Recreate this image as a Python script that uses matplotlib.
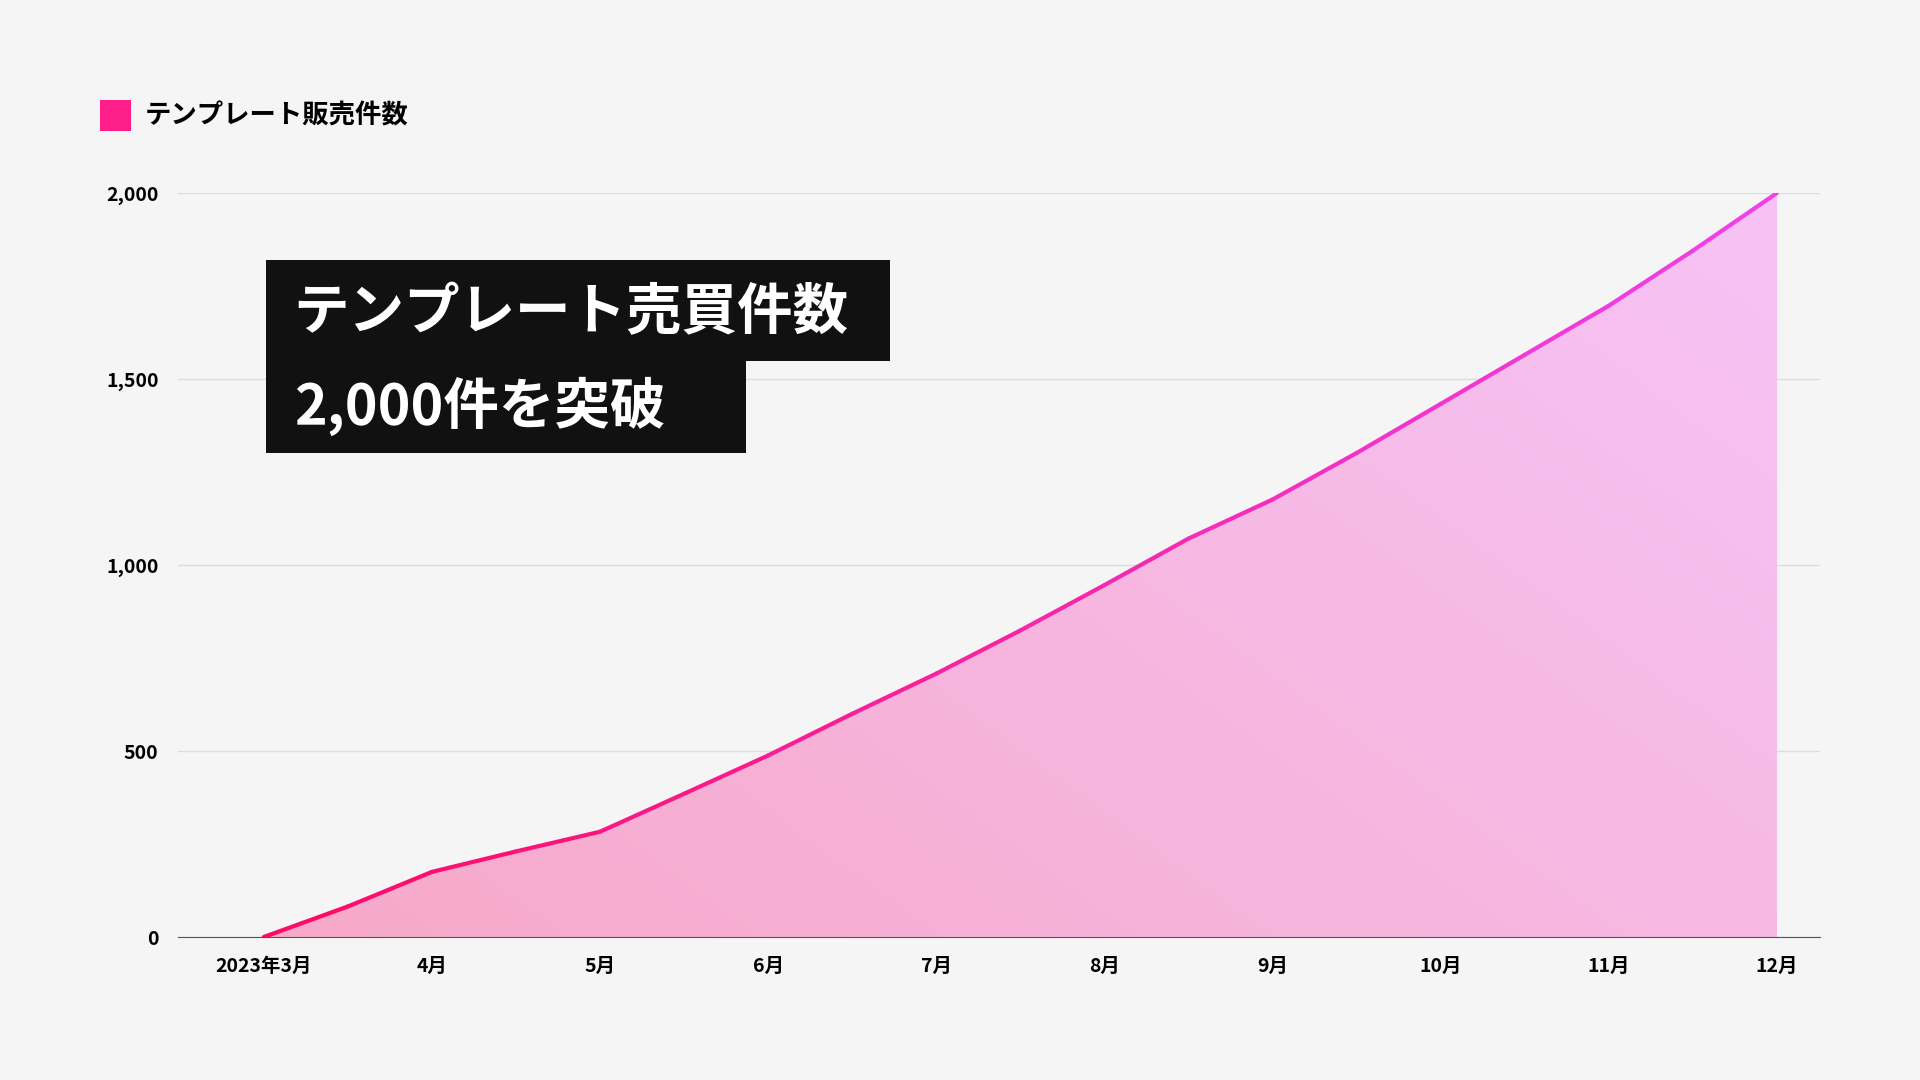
import numpy as np
import matplotlib.pyplot as plt
from matplotlib.collections import LineCollection
from matplotlib.colors import LinearSegmentedColormap
from matplotlib.patches import Rectangle

plt.rcParams['font.family'] = ['Noto Sans CJK JP', 'DejaVu Sans']

# month index (0 = 2023年3月) and cumulative sales
months = [0, 0.5, 1, 1.5, 2, 2.5, 3, 3.5, 4, 4.5, 5, 5.5, 6, 6.5, 7, 7.5, 8, 8.5, 9]
sales = [0, 82, 175, 230, 283, 385, 488, 600, 708, 824, 946, 1071, 1176, 1301,
         1433, 1565, 1697, 1845, 2000]
tick_labels = ['2023年3月', '4月', '5月', '6月', '7月', '8月', '9月', '10月', '11月', '12月']
y_ticks = [0, 500, 1000, 1500, 2000]

bg = '#f5f5f5'
fig = plt.figure(figsize=(19.2, 10.8), dpi=100, facecolor=bg)
ax = fig.add_axes([0.0927, 0.1324, 0.8553, 0.6889], facecolor=bg)
ax.set_xlim(-0.51, 9.257)
ax.set_ylim(0, 2000)

# gradient fill under the curve
fill = ax.fill_between(months, sales, 0, color='none')
grad_cmap = LinearSegmentedColormap.from_list('g', ['#f7a9c9', '#f6c3f6'])
xx, yy = np.meshgrid(np.linspace(0, 1, 200), np.linspace(0, 1, 200))
img = ax.imshow(0.6 * xx + 0.4 * yy, extent=[0, 9, 0, 2000], origin='lower',
                aspect='auto', cmap=grad_cmap, zorder=1)
img.set_clip_path(fill.get_paths()[0], transform=ax.transData)

# gradient line
pts = np.array([months, sales]).T.reshape(-1, 1, 2)
segs = np.concatenate([pts[:-1], pts[1:]], axis=1)
line_cmap = LinearSegmentedColormap.from_list('l', ['#ff0a66', '#f040e8'])
lc = LineCollection(segs, cmap=line_cmap, linewidth=3, zorder=3, capstyle='round')
lc.set_array(np.array(months[:-1]))
ax.add_collection(lc)

ax.set_yticks(y_ticks)
ax.set_yticklabels([f'{v:,}' for v in y_ticks])
ax.set_xticks(range(len(tick_labels)))
ax.set_xticklabels(tick_labels)
ax.grid(axis='y', color='#dddddd', linewidth=1)
ax.set_axisbelow(True)
ax.tick_params(length=0, labelsize=14, pad=14)
for lab in ax.get_xticklabels() + ax.get_yticklabels():
    lab.set_fontweight('bold')
for s in ['top', 'right', 'left']:
    ax.spines[s].set_visible(False)
ax.spines['bottom'].set_color('#555555')

# legend
fig.patches.append(Rectangle((0.0523, 0.879), 0.0159, 0.028, transform=fig.transFigure,
                             facecolor='#ff1f8a', edgecolor='none'))
fig.text(0.0755, 0.893, 'テンプレート販売件数', fontsize=19, fontweight='bold', va='center')

# annotation boxes
fig.patches.append(Rectangle((0.1384, 0.6655), 0.3253, 0.0941, transform=fig.transFigure,
                             facecolor='#111111', edgecolor='none', zorder=5))
fig.patches.append(Rectangle((0.1384, 0.5805), 0.2500, 0.0851, transform=fig.transFigure,
                             facecolor='#111111', edgecolor='none', zorder=5))
fig.text(0.153, 0.710, 'テンプレート売買件数', fontsize=40, fontweight='bold',
         color='white', va='center', zorder=6)
fig.text(0.153, 0.624, '2,000件を突破', fontsize=40, fontweight='bold',
         color='white', va='center', zorder=6)

fig.savefig('out.png', dpi=100, facecolor=bg)
